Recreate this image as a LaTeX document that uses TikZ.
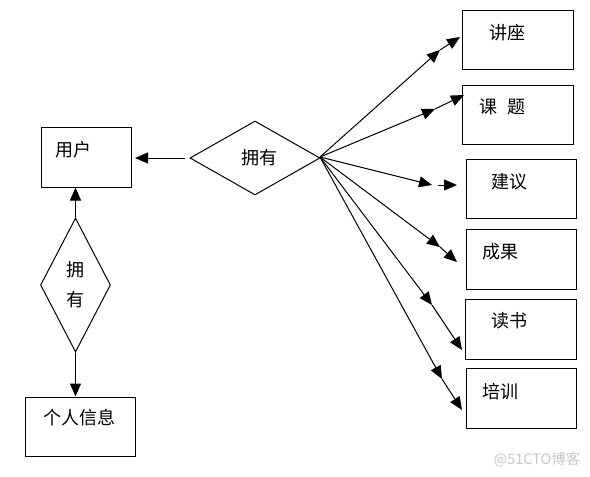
\documentclass[tikz,border=0pt]{standalone}
\usepackage{fontspec}
\newfontfamily\cjk{Noto Sans CJK SC}
\usetikzlibrary{arrows.meta,shapes.geometric}
\begin{document}
\begin{tikzpicture}[x=1pt,y=-1pt,
  box/.style={draw,line width=1pt,inner sep=0pt,rectangle},
  txt/.style={font=\cjk\fontsize{18}{20}\selectfont,inner sep=0pt},
  conn/.style={line width=1pt,-{Triangle[length=13pt,width=11pt]}}]
\useasboundingbox (0,0) rectangle (590,477);
% left part
\node[box,minimum width=90pt,minimum height=60pt] (yh) at (86,157) {};
\node[txt] at (74,150) {用户};
\node[box,minimum width=110pt,minimum height=59pt] (gr) at (80,426.5) {};
\node[txt] at (79,418) {个人信息};
\node[draw,line width=1pt,diamond,inner sep=0pt,minimum width=70pt,minimum height=134pt] (d1) at (75.5,285) {};
\node[txt] at (75,270) {拥};
\node[txt] at (75,300) {有};
\node[draw,line width=1pt,diamond,inner sep=0pt,minimum width=130pt,minimum height=74pt] (d2) at (255,158) {};
\node[txt] at (259,158) {拥有};
\draw[conn] (d1.north) -- (d1.north |- yh.south);
\draw[conn] (d1.south) -- (d1.south |- gr.north);
\coordinate (d2l) at (185,158);
\coordinate (yhr) at (135,158);
\draw[conn] (d2l) -- (yhr);
% right boxes
\node[box,minimum width=111pt,minimum height=59pt] (b1) at (517.5,39.5) {};
\node[txt] at (507.5,33) {讲座};
\node[box,minimum width=111pt,minimum height=59pt] (b2) at (517.5,114.5) {};
\node[txt] at (502.5,107) {课\hspace{0.6em}题};
\node[box,minimum width=110pt,minimum height=59pt] (b3) at (521,188.5) {};
\node[txt] at (509,182) {建议};
\node[box,minimum width=110pt,minimum height=60pt] (b4) at (521,259) {};
\node[txt] at (500,252) {成果};
\node[box,minimum width=111pt,minimum height=60pt] (b5) at (520.5,329) {};
\node[txt] at (509,321) {读书};
\node[box,minimum width=110pt,minimum height=60pt] (b6) at (521,398) {};
\node[txt] at (500,392) {培训};
% connectors from hub
\coordinate (hub) at (320,157);
\coordinate (m1) at (440,50);  \coordinate (e1) at (460,37);
\coordinate (m2) at (435,109); \coordinate (e2) at (464,95);
\coordinate (m3) at (432,185); \coordinate (s3) at (438,185); \coordinate (e3) at (457,185);
\coordinate (m4) at (440,247); \coordinate (e4) at (457,262);
\coordinate (m5) at (432,305); \coordinate (e5) at (462,350);
\coordinate (m6) at (442,379); \coordinate (e6) at (462,410);
\draw[conn] (hub) -- (m1); \draw[conn] (m1) -- (e1);
\draw[conn] (hub) -- (m2); \draw[conn] (m2) -- (e2);
\draw[conn] (hub) -- (m3); \draw[conn] (s3) -- (e3);
\draw[conn] (hub) -- (m4); \draw[conn] (m4) -- (e4);
\draw[conn] (hub) -- (m5); \draw[conn] (m5) -- (e5);
\draw[conn] (hub) -- (m6); \draw[conn] (m6) -- (e6);
% watermark
\node[font=\cjk\fontsize{14.5}{16}\selectfont,text=black!22,inner sep=0pt] at (537,460) {@51CTO博客};
\end{tikzpicture}
\end{document}
